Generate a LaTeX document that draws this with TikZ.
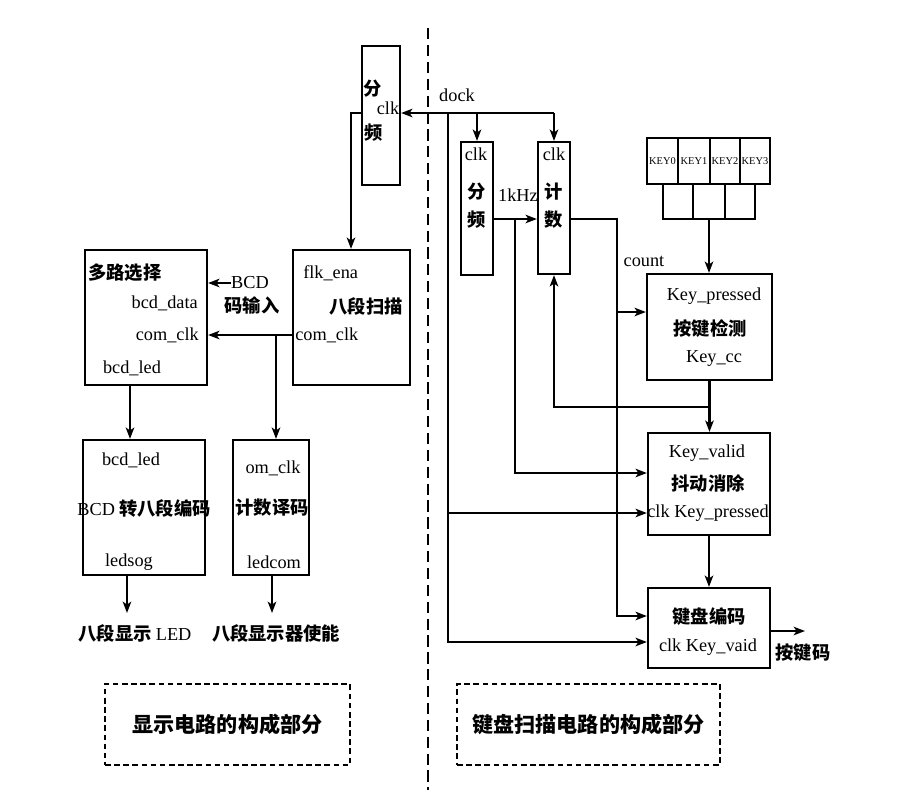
\documentclass[tikz,border=0pt]{standalone}
\usepackage{fontspec}
\setmainfont{Liberation Serif}
\newfontfamily\cjk{Noto Sans CJK SC}
\usetikzlibrary{arrows.meta,positioning,fit}

\tikzset{
  blk/.style={draw, line width=1.6pt, inner sep=0pt},
  wire/.style={line width=1.5pt, -{Stealth[length=8pt,width=6pt,inset=2pt]}},
  lbl/.style={font=\fontsize{13}{15}\selectfont, inner sep=0pt},
  zh/.style={font=\fontsize{13}{15}\selectfont\cjk\bfseries, inner sep=0pt},
  keylbl/.style={font=\fontsize{7.4}{8}\selectfont, inner sep=0pt},
  part/.style={draw, line width=1pt, dash pattern=on 4pt off 2.5pt, inner sep=0pt},
}

\begin{document}
\begin{tikzpicture}[x=0.025cm,y=-0.025cm]
  \useasboundingbox (0,0) rectangle (902,798);

  % divider between the two halves
  \draw[line width=1.2pt, dash pattern=on 8pt off 4pt] (428,28) -- (428,790);

  % blocks, display side
  \node[blk, fit={(362,46) (400,185)}] (fp) {};
  \node[blk, fit={(85,250) (207,385)}] (mux) {};
  \node[blk, fit={(293,250) (410,385)}] (scan) {};
  \node[blk, fit={(83,440) (205,575)}] (seg) {};
  \node[blk, fit={(233,440) (309,575)}] (dec) {};

  % blocks, keyboard side
  \node[blk, fit={(461,142) (493,275)}] (div) {};
  \node[blk, fit={(538,142) (570,274)}] (cnt) {};
  \node[blk, fit={(647,274) (772,380)}] (det) {};
  \node[blk, fit={(648,433) (770,535)}] (deb) {};
  \node[blk, fit={(648,588) (770,668)}] (enc) {};
  \foreach \i/\a/\b in {0/647/678,1/678/710,2/710/740,3/740/770}{
    \node[blk, fit={(\a,138) (\b,184)}] (key\i) {};
    \node[keylbl] (keyt\i) at (key\i) {KEY\i};
  }
  \foreach \i/\a/\b in {0/663/693,1/693/725,2/725/755}
    \node[blk, fit={(\a,184) (\b,219)}] (pad\i) {};

  % texts
  \node[zh] (fpa) at (373,89) {分};
  \node[lbl] (fpclk) at (388,108) {clk};
  \node[zh] (fpb) at (374,133) {频};
  \node[lbl] (dock) at (457,95) {dock};

  \node[zh, anchor=west] (muxa) at (88,273) {多路选择};
  \node[lbl, anchor=east] (muxb) at (198,303) {bcd\_data};
  \node[lbl, anchor=east] (muxc) at (199,335) {com\_clk};
  \node[lbl] (muxd) at (132,368) {bcd\_led};
  \node[lbl] (bcd) at (250,283) {BCD};
  \node[zh] (bcdin) at (252,305) {码输入};

  \node[lbl, anchor=west] (scana) at (303,273) {flk\_ena};
  \node[zh, anchor=east] (scanb) at (403,306) {八段扫描};
  \node[lbl, anchor=west] (scanc) at (295,335) {com\_clk};

  \node[lbl] (sega) at (131,460) {bcd\_led};
  \node[zh] (segb) at (144,508) {{\normalfont BCD} 转八段编码};
  \node[lbl] (segc) at (129,562) {ledsog};
  \node[lbl] (deca) at (273,468) {om\_clk};
  \node[zh] (decb) at (272,508) {计数译码};
  \node[lbl] (decc) at (274,562) {ledcom};
  \node[zh] (outa) at (135,633) {八段显示 {\normalfont LED}};
  \node[zh] (outb) at (276,633) {八段显示器使能};

  \node[lbl] (diva) at (476,154) {clk};
  \node[zh] (divb) at (477,192) {分};
  \node[zh] (divc) at (477,220) {频};
  \node[lbl] (cnta) at (554,154) {clk};
  \node[zh] (cntb) at (554,192) {计};
  \node[zh] (cntc) at (554,220) {数};
  \node[lbl] (khz) at (518,195) {1kHz};
  \node[lbl] (count) at (644,261) {count};

  \node[lbl] (deta) at (714,296) {Key\_pressed};
  \node[zh] (detb) at (710,329) {按键检测};
  \node[lbl] (detc) at (714,358) {Key\_cc};
  \node[lbl] (deba) at (707,453) {Key\_valid};
  \node[zh] (debb) at (708,483) {抖动消除};
  \node[lbl] (debc) at (708,513) {clk Key\_pressed};
  \node[zh] (enca) at (709,617) {键盘编码};
  \node[lbl] (encb) at (708,647) {clk Key\_vaid};
  \node[zh] (keycode) at (803,653) {按键码};

  % part captions
  \node[part, fit={(105,684) (350,765)}] (partL) {};
  \node[font=\fontsize{15}{17}\selectfont\cjk\bfseries] (partLt) at (partL) {显示电路的构成部分};
  \node[part, fit={(457,684) (720,765)}] (partR) {};
  \node[font=\fontsize{15}{17}\selectfont\cjk\bfseries] (partRt) at (partR) {键盘扫描电路的构成部分};

  % clock bus
  \coordinate (busE) at (554,113);
  \coordinate (busL) at (448,113);
  \coordinate (clkA) at (448,513);
  \coordinate (clkB) at (448,642);
  \draw[wire] (busE) -- (fp.east |- busE);
  \draw[wire] (busE) -- (busE |- cnt.north);
  \draw[wire] (div.north |- busE) -- (div.north);
  \draw[wire] (busL) -- (clkB) -- (clkB -| enc.west);
  \draw[wire] (clkA) -- (clkA -| deb.west);

  % display side wiring
  \coordinate (fpo) at (351,113);
  \draw[wire] (fp.west |- fpo) -- (fpo) -- (fpo |- scan.north);
  \coordinate (ck) at (276,335);
  \draw[wire] (scan.west |- ck) -- (mux.east |- ck);
  \draw[wire] (ck) -- (ck |- dec.north);
  \draw[wire] (bcd.west) -- (mux.east |- bcd.west);
  \coordinate (m1) at (130,385);
  \draw[wire] (m1) -- (m1 |- seg.north);
  \coordinate (o1) at (127,613);
  \draw[wire] (o1 |- seg.south) -- (o1);
  \coordinate (o2) at (272,613);
  \draw[wire] (o2 |- dec.south) -- (o2);

  % keyboard side wiring
  \coordinate (k1) at (515,219);
  \coordinate (k2) at (515,473);
  \draw[wire] (div.east |- k1) -- (cnt.west |- k1);
  \draw[wire] (k1) -- (k2) -- (k2 -| deb.west);
  \coordinate (c1) at (617,219);
  \coordinate (c2) at (617,312);
  \coordinate (c3) at (617,616);
  \draw[wire] (cnt.east |- c1) -- (c1) -- (c3) -- (c3 -| enc.west);
  \draw[wire] (c2) -- (c2 -| det.west);
  \draw[wire] (pad1.south) -- (pad1.south |- det.north);
  \draw[wire] (det.south) -- (det.south |- deb.north);
  \coordinate (f1) at (det.south |- 0,407);
  \draw[wire] (f1) -- (f1 -| cnt.south) -- (cnt.south);
  \draw[wire] (deb.south) -- (deb.south |- enc.north);
  \coordinate (kout) at (805,631);
  \draw[wire] (kout -| enc.east) -- (kout);
\end{tikzpicture}
\end{document}
